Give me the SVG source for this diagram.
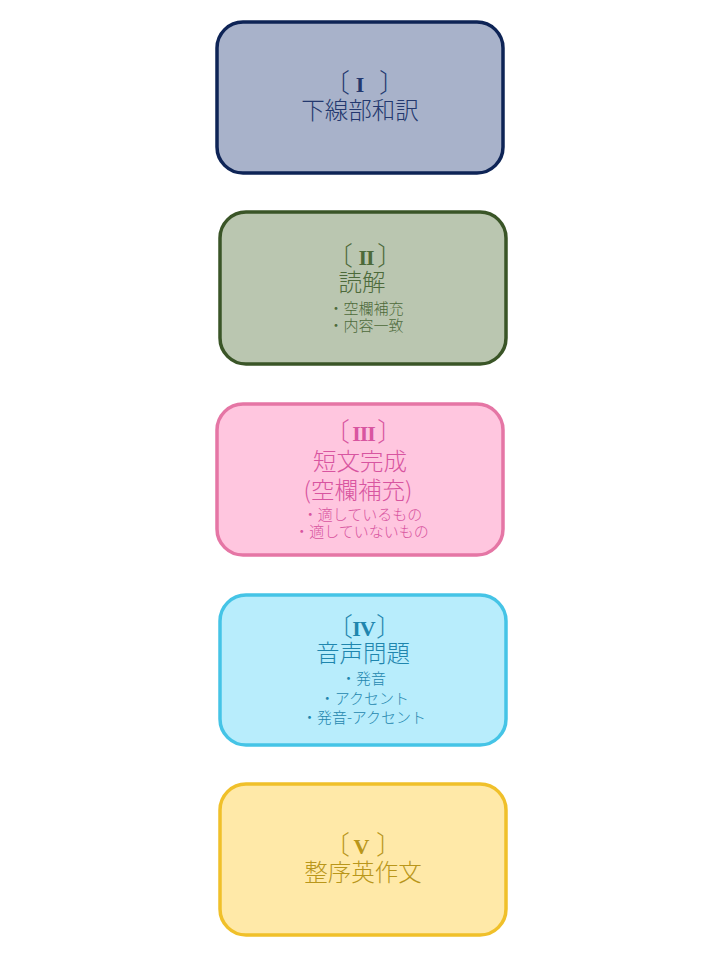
<svg xmlns="http://www.w3.org/2000/svg" width="720" height="960" viewBox="0 0 720 960">
<style>
.box{stroke-width:3.5}
text{font-family:"Noto Sans CJK JP","Noto Sans",sans-serif;text-anchor:middle;font-weight:300}
.rn{font-family:"Liberation Serif",serif;font-weight:bold;font-size:22px;text-anchor:middle}
.t{font-size:23.5px}
.s{font-size:15px}
.nl{font-size:26px;text-anchor:start}
</style>
<rect width="720" height="960" fill="#ffffff"/>
<g id="node1">
<rect class="box" x="217" y="22" width="286" height="151" rx="26" fill="#A8B2CA" stroke="#0E2456"/>
<text class="nl" y="92" fill="#23386E"><tspan x="324">〔</tspan><tspan class="rn" x="360">I</tspan><tspan x="379">〕</tspan></text>
<text class="t" x="360" y="119" fill="#23386E">下線部和訳</text>
</g>
<g id="node2">
<rect class="box" x="220" y="212" width="286" height="152" rx="26" fill="#BAC6B0" stroke="#3A5527"/>
<text class="nl" y="265" fill="#4D6A3A"><tspan x="327">〔</tspan><tspan class="rn" x="366" letter-spacing="-1">II</tspan><tspan x="377">〕</tspan></text>
<text class="t" x="362" y="291" fill="#4D6A3A">読解</text>
<text class="s" x="366" y="313.5" fill="#4D6A3A">・空欄補充</text>
<text class="s" x="366" y="331" fill="#4D6A3A">・内容一致</text>
</g>
<g id="node3">
<rect class="box" x="217" y="404" width="286" height="151" rx="26" fill="#FFC6DF" stroke="#E576A5"/>
<text class="nl" y="441" fill="#D855A0"><tspan x="324">〔</tspan><tspan class="rn" x="363.5" letter-spacing="-1">III</tspan><tspan x="377">〕</tspan></text>
<text class="t" x="360" y="470" fill="#D855A0">短文完成</text>
<text class="t" x="358" y="499" fill="#D855A0">(空欄補充)</text>
<text class="s" x="362.5" y="520" fill="#D855A0">・適しているもの</text>
<text class="s" x="361.5" y="537" fill="#D855A0">・適していないもの</text>
</g>
<g id="node4">
<rect class="box" x="220" y="595" width="286" height="150" rx="26" fill="#B8EDFC" stroke="#45C4E6"/>
<text class="nl" y="636" fill="#1F86AE"><tspan x="327">〔</tspan><tspan class="rn" x="363.5" letter-spacing="-1">IV</tspan><tspan x="376">〕</tspan></text>
<text class="t" x="363" y="662" fill="#1F86AE">音声問題</text>
<text class="s" x="363.5" y="683.5" fill="#1F86AE">・発音</text>
<text class="s" x="364.5" y="703.5" fill="#1F86AE">・アクセント</text>
<text class="s" x="364" y="722.5" fill="#1F86AE">・発音-アクセント</text>
</g>
<g id="node5">
<rect class="box" x="220" y="784" width="286" height="151" rx="26" fill="#FFE9A8" stroke="#F0C02A"/>
<text class="nl" y="854" fill="#B9961A"><tspan x="324">〔</tspan><tspan class="rn" x="361.5">V</tspan><tspan x="376">〕</tspan></text>
<text class="t" x="363" y="881" fill="#B9961A">整序英作文</text>
</g>
<g id="connectors"></g>
</svg>
